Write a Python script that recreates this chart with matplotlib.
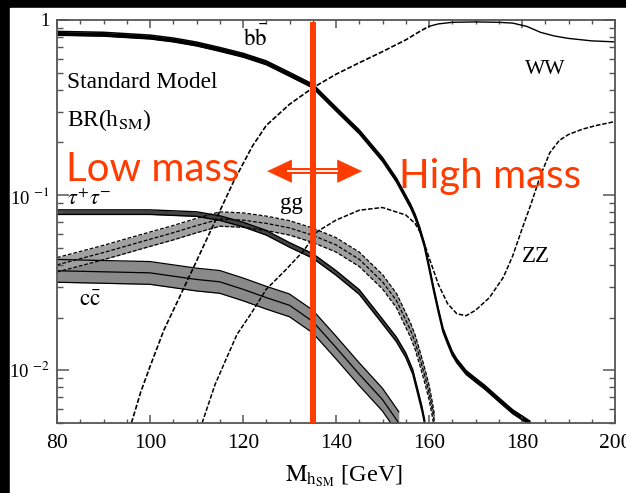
import numpy as np
import matplotlib
matplotlib.use('Agg')
import matplotlib.pyplot as plt
from matplotlib.patches import Rectangle
from matplotlib.ticker import FixedLocator, FixedFormatter, MultipleLocator

plt.rcParams['font.family'] = ['Liberation Serif', 'DejaVu Serif']
plt.rcParams['mathtext.fontset'] = 'stix'

# branching ratios (mass in GeV)
bb_m = [80, 90, 100, 105, 110, 115, 120, 125, 130, 135, 140, 145, 150, 153, 156, 157,
        158, 159, 160, 161, 162, 163, 164, 165, 166, 168, 170, 172, 175, 178, 181.7]
bb_br = [0.84, 0.83, 0.80, 0.77, 0.73, 0.68, 0.63, 0.57, 0.49, 0.42, 0.31, 0.23, 0.16,
         0.122, 0.087, 0.076, 0.064, 0.052, 0.039, 0.029, 0.022, 0.017, 0.0145,
         0.0125, 0.0113, 0.0097, 0.0088, 0.0080, 0.0068, 0.0058, 0.0050]

ww_m = [96, 98, 100, 103, 106, 110, 114, 118, 122, 125, 130, 135, 140, 145, 150, 155,
        158, 160, 162, 165, 170, 175, 178, 181, 184, 187, 190, 195, 200]
ww_br = [0.005, 0.0075, 0.0105, 0.017, 0.025, 0.042, 0.071, 0.12, 0.19, 0.25, 0.33,
         0.41, 0.49, 0.57, 0.66, 0.77, 0.86, 0.92, 0.95, 0.97, 0.975, 0.97, 0.96,
         0.92, 0.85, 0.81, 0.785, 0.76, 0.75]

zz_m = [111.2, 114, 116, 118.7, 122, 125, 129, 133, 136, 140, 145, 150, 155, 157, 158,
        159, 160, 161, 162, 164, 166, 168, 170, 173, 176, 178, 180, 182, 184, 186,
        188, 190, 193, 196, 200]
zz_br = [0.005, 0.0083, 0.011, 0.016, 0.0216, 0.029, 0.037, 0.048, 0.062, 0.072,
         0.082, 0.085, 0.077, 0.069, 0.062, 0.053, 0.044, 0.037, 0.031, 0.024, 0.021,
         0.0205, 0.022, 0.026, 0.034, 0.045, 0.064, 0.09, 0.13, 0.175, 0.205, 0.222,
         0.238, 0.25, 0.263]

tau_m = [80, 90, 100, 110, 115, 120, 125, 130, 135, 140, 145, 150, 153, 155, 156.5,
         157.6, 158.5, 159.1]
tau_br = [0.080, 0.080, 0.080, 0.078, 0.074, 0.068, 0.061, 0.052, 0.045, 0.036, 0.028,
          0.019, 0.015, 0.0122, 0.0098, 0.0075, 0.006, 0.005]

gg_m = [80, 90, 100, 105, 110, 115, 120, 125, 130, 135, 140, 145, 150, 153, 156, 157,
        158, 159, 160, 160.7, 161.2]
gg_br = [0.040, 0.047, 0.056, 0.061, 0.067, 0.073, 0.072, 0.069, 0.065, 0.059, 0.052,
         0.043, 0.032, 0.025, 0.017, 0.0145, 0.0118, 0.0095, 0.0075, 0.006, 0.005]

cc_m = [80, 90, 100, 110, 115, 120, 125, 130, 135, 140, 145, 150, 153.5]
cc_br = [0.037, 0.0365, 0.036, 0.033, 0.032, 0.029, 0.026, 0.0235, 0.019, 0.0135,
         0.0095, 0.0068, 0.005]

m_cut = 135

red = '#ff3c00'
sans = ['Lato', 'DejaVu Sans']

fig = plt.figure(figsize=(6.26, 4.93), dpi=100, facecolor='black')
fig.patches.append(Rectangle((10 / 626, 0), 1, 1 - 8 / 493, transform=fig.transFigure,
                             color='white', zorder=-1))
ax = fig.add_axes([57 / 626, 1 - 423 / 493, 558 / 626, 403 / 493])
ax.set_facecolor('white')

# c cbar : grey band with solid centre line
cc = np.array(cc_br)
ax.fill_between(cc_m, cc * 0.86, cc * 1.16, color='#8a8a8a', lw=0)
for f in (0.86, 1.0, 1.16):
    ax.plot(cc_m, cc * f, color='black', lw=0.9)

# gg : dashed band
gg = np.array(gg_br)
ax.fill_between(gg_m, gg * 0.91, gg * 1.1, color='#a0a0a0', lw=0)
for f in (0.91, 1.0, 1.1):
    ax.plot(gg_m, gg * f, color='black', lw=0.9, ls=(0, (3, 1.5)))

# tau tau : narrow solid band
tau = np.array(tau_br)
ax.fill_between(tau_m, tau * 0.97, tau * 1.03, color='#444444', lw=0)
for f in (0.97, 1.03):
    ax.plot(tau_m, tau * f, color='black', lw=1.0)

# b bbar : thick
bb = np.array(bb_br)
ax.fill_between(bb_m, bb * 0.975, bb * 1.025, color='black', lw=0)
for f in (0.975, 1.025):
    ax.plot(bb_m, bb * f, color='black', lw=1.1)

# WW and ZZ : dashed
ww_m_a = np.array(ww_m)
ww_a = np.array(ww_br)
ax.plot(ww_m_a[ww_m_a <= 160], ww_a[ww_m_a <= 160], color='black', lw=1.2,
        ls=(0, (3, 1.2)))
ax.plot(ww_m_a[ww_m_a >= 160], ww_a[ww_m_a >= 160], color='black', lw=1.0)
ax.plot(zz_m, zz_br, color='black', lw=1.1, ls=(0, (3, 1.2)))

ax.set_yscale('log')
ax.set_xlim(80, 200)
ax.set_ylim(0.005, 1)

ax.xaxis.set_major_locator(MultipleLocator(20))
ax.xaxis.set_minor_locator(MultipleLocator(5))
ax.yaxis.set_major_locator(FixedLocator([0.01, 0.1, 1]))
ax.yaxis.set_major_formatter(FixedFormatter(['10 $^{-2}$', '10 $^{-1}$', '1']))
minors = [k * d for d in (0.001, 0.01, 0.1) for k in range(2, 10)]
ax.yaxis.set_minor_locator(FixedLocator(minors))
ax.yaxis.set_minor_formatter(FixedFormatter([''] * len(minors)))

ax.tick_params(which='both', direction='in', top=True, right=True, color='#555555')
ax.tick_params(axis='x', which='major', length=6, width=1.1, pad=8, labelsize=15.5)
ax.tick_params(axis='x', which='minor', length=3, width=1.0)
ax.tick_params(axis='y', which='major', length=8.5, width=1.1, pad=5, labelsize=13.5)
ax.tick_params(axis='y', which='minor', length=4.5, width=1.0)
for s in ax.spines.values():
    s.set_color('#555555')
    s.set_linewidth(1.3)

ax.set_xlabel(r'$\mathrm{M_{h_{SM}}}$ [GeV]', fontsize=17.5, labelpad=6)
ax.xaxis.set_label_coords(0.515, -0.1)

# curve labels
ax.text(122.6, 0.78, r'$\mathrm{b\bar{b}}$', fontsize=16.5, ha='center', va='center')
ax.text(82.2, 0.44, 'Standard Model', fontsize=16.8, va='center')
ax.text(82.2, 0.27, r'BR(h$_{\mathrm{SM}}$)', fontsize=16.8, va='center')
ax.text(82.2, 0.094, r'$\tau^{+}\tau^{-}$', fontsize=16, va='center')
ax.text(130.5, 0.090, 'gg', fontsize=16.5, ha='center', va='center')
ax.text(87.1, 0.025, r'$\mathrm{c\bar{c}}$', fontsize=16.5, ha='center', va='center')
ax.text(185, 0.52, 'WW', fontsize=15.5, ha='center', va='center')
ax.text(183, 0.0444, 'ZZ', fontsize=16.5, ha='center', va='center')

# low / high mass split
ax.plot([m_cut, m_cut], [0.005, 0.94], color=red, lw=4.3, zorder=5)
ax.text(82, 0.14, 'Low mass', color=red, fontsize=29, family=sans,
        va='center', zorder=6)
ax.text(153.6, 0.127, 'High mass', color=red, fontsize=29, family=sans,
        va='center', zorder=6)
y_arrow = 0.137
for x_tip, x_tail in ((125.2, 130), (145.6, 140)):
    ax.annotate('', xy=(x_tip, y_arrow), xytext=(x_tail, y_arrow),
                arrowprops=dict(arrowstyle='-|>,head_length=1.7,head_width=0.8',
                                color=red, lw=0.5, shrinkA=0, shrinkB=0), zorder=6)
ax.plot([129.5, 140.5], [y_arrow, y_arrow], color=red, lw=4.3, zorder=6,
        solid_capstyle='butt')
ax.plot([129.5, 140.5], [y_arrow, y_arrow], color='white', lw=1.3, zorder=6,
        solid_capstyle='butt')
ax.plot([m_cut, m_cut], [0.125, 0.15], color=red, lw=4.3, zorder=7)

fig.savefig('out.png', dpi=100, facecolor=fig.get_facecolor())
